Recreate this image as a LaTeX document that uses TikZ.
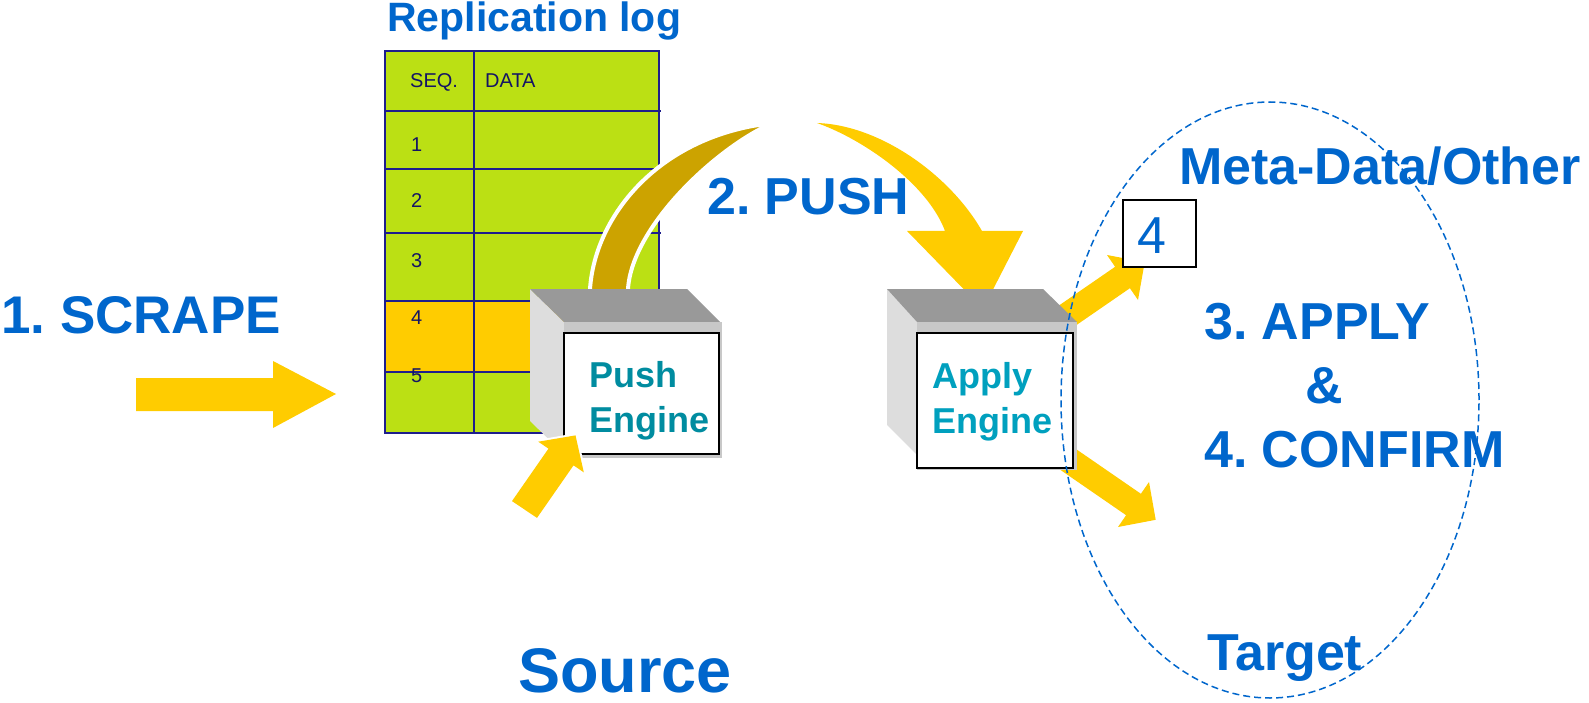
\documentclass[tikz,border=0pt]{standalone}
\usepackage{fontspec}
\setmainfont{Liberation Sans}
\frenchspacing
\newcommand{\myfs}[1]{\fontsize{#1pt}{#1pt}\selectfont}
\definecolor{ttblue}{RGB}{0,102,204}
\definecolor{arrowyellow}{RGB}{255,204,0}
\definecolor{darkgold}{RGB}{204,163,0}
\definecolor{tablegreen}{RGB}{187,224,20}
\definecolor{tableorange}{RGB}{255,204,0}
\definecolor{tableline}{RGB}{30,30,140}
\definecolor{tabletext}{RGB}{20,20,100}
\definecolor{pushteal}{RGB}{0,140,160}
\definecolor{applyteal}{RGB}{0,160,190}
\definecolor{topgray}{RGB}{153,153,153}
\definecolor{sidegray}{RGB}{221,221,221}
\definecolor{stripgray}{RGB}{200,200,200}
\tikzset{
  lbl/.style={inner sep=0pt, anchor=base west, text=ttblue, font={\myfs{52}\bfseries}},
  celltext/.style={inner sep=0pt, anchor=base west, text=tabletext, font={\myfs{20}}},
  enginetext/.style={inner sep=0pt, anchor=base west, font={\myfs{36}\bfseries}},
  tline/.style={draw=tableline, line width=2pt},
  topface/.style={fill=topgray},
  sideface/.style={fill=sidegray},
  frontstrip/.style={fill=stripgray},
  frontbox/.style={fill=white, draw=black, line width=2pt},
  yarrow/.style={fill=arrowyellow},
}
\begin{document}
\begin{tikzpicture}[x=1pt,y=-1pt]
\useasboundingbox (0,0) rectangle (1589,703);

% ---- 1. SCRAPE
\fill[yarrow] (136,378) -- (273,378) -- (273,361) -- (336,394) -- (273,428) -- (273,411) -- (136,411) -- cycle;
\node[lbl, font={\myfs{53}\bfseries}] (scrape) at (1,333) {1. SCRAPE};

% ---- Replication log table
\node[lbl, font={\myfs{41}\bfseries}] (replog) at (387,32) {Replication log};
\fill[tablegreen] (385,51) rectangle (659,433);
\fill[tableorange] (385,301) rectangle (659,372);
\draw[tline] (385,51) rectangle (659,433);
\foreach \yy in {111,169,233,301,372} \draw[tline] (385,\yy) -- (661,\yy);
\draw[tline] (474,51) -- (474,434);
\node[celltext] (seq) at (410,88) {SEQ.};
\node[celltext] (data) at (485,88) {DATA};
\node[celltext] (r1) at (411,152) {1};
\node[celltext] (r2) at (411,208) {2};
\node[celltext] (r3) at (411,267) {3};
\node[celltext] (r4) at (411,324) {4};
\node[celltext] (r5) at (411,382) {5};

% ---- 2. PUSH curved arrow
\filldraw[fill=darkgold, draw=white, line width=4pt, line join=round]
  (590,300) -- (590,289) .. controls (595,215) and (660,135) .. (773,123)
  .. controls (720,145) and (632,225) .. (628,289) -- (628,300) -- cycle;
\fill[yarrow] (817,123) .. controls (880,125) and (950,175) .. (982,231)
  -- (1023,231) -- (983,309) -- (907,231) -- (945,231)
  .. controls (928,185) and (865,140) .. (817,123) -- cycle;
\node[lbl] (push) at (707,215) {2. PUSH};

% ---- apply arrows (behind the apply engine)
\fill[yarrow] (1036.9,320.7) -- (1115.1,266.8) -- (1107,255) -- (1144.7,262.2)
  -- (1138,300) -- (1129.9,288.2) -- (1051.7,342.1) -- cycle;
\fill[yarrow] (1058.5,437) -- (1140.9,493.8) -- (1149,482) -- (1155.7,519.8)
  -- (1118,527) -- (1126.1,515.2) -- (1043.7,458.4) -- cycle;

% ---- Push Engine cube
\fill[sideface] (530,289) -- (564,322) -- (564,454) -- (530,421) -- cycle;
\fill[topface] (530,289) -- (687,289) -- (720,322) -- (564,322) -- cycle;
\fill[frontstrip] (564,322) rectangle (722,458);
\draw[frontbox] (564,333) rectangle (719,454);
\node[enginetext, text=pushteal] (pushA) at (589,387) {Push};
\node[enginetext, text=pushteal] (pushB) at (589,432) {Engine};

% small arrow into push engine
\filldraw[fill=arrowyellow, draw=white, line width=4pt, line join=round]
  (512,501.1) -- (548.5,448.6) -- (538.2,441.7) -- (575.5,435.4)
  -- (583.8,472.3) -- (573.5,465.4) -- (537,517.9) -- cycle;
\fill[yarrow] (512,501.1) -- (548.5,448.6) -- (538.2,441.7) -- (575.5,435.4)
  -- (583.8,472.3) -- (573.5,465.4) -- (537,517.9) -- cycle;

% ---- Apply Engine cube
\fill[sideface] (887,289) -- (917,322) -- (917,455) -- (887,425) -- cycle;
\fill[topface] (887,289) -- (1043,289) -- (1077,322) -- (917,322) -- cycle;
\fill[frontstrip] (917,322) rectangle (1077,470);
\draw[frontbox] (917,333) rectangle (1073,468);
\node[enginetext, text=applyteal] (applyA) at (932,388) {Apply};
\node[enginetext, text=applyteal] (applyB) at (932,433) {Engine};

% ---- box 4
\draw[fill=white, draw=black, line width=2.5pt] (1123,200) rectangle (1196,267);
\node[inner sep=0pt, anchor=base, text=ttblue, font={\myfs{52}}] (four) at (1152,254) {4};

% ---- target texts
\node[lbl] (meta) at (1179,185) {Meta-Data/Other};
\node[lbl] (apply) at (1204,339) {3. APPLY};
\node[lbl] (amp) at (1305,403) {\&};
\node[lbl] (confirm) at (1204,467) {4. CONFIRM};
\node[lbl] (target) at (1207,670) {Target};
\node[lbl, font={\myfs{63}\bfseries}] (source) at (518,692) {Source};

% ---- target ellipse
\draw[ttblue, line width=1.5pt, dash pattern=on 7pt off 4pt] (1270,400) ellipse [x radius=209pt, y radius=298pt];
\end{tikzpicture}
\end{document}
